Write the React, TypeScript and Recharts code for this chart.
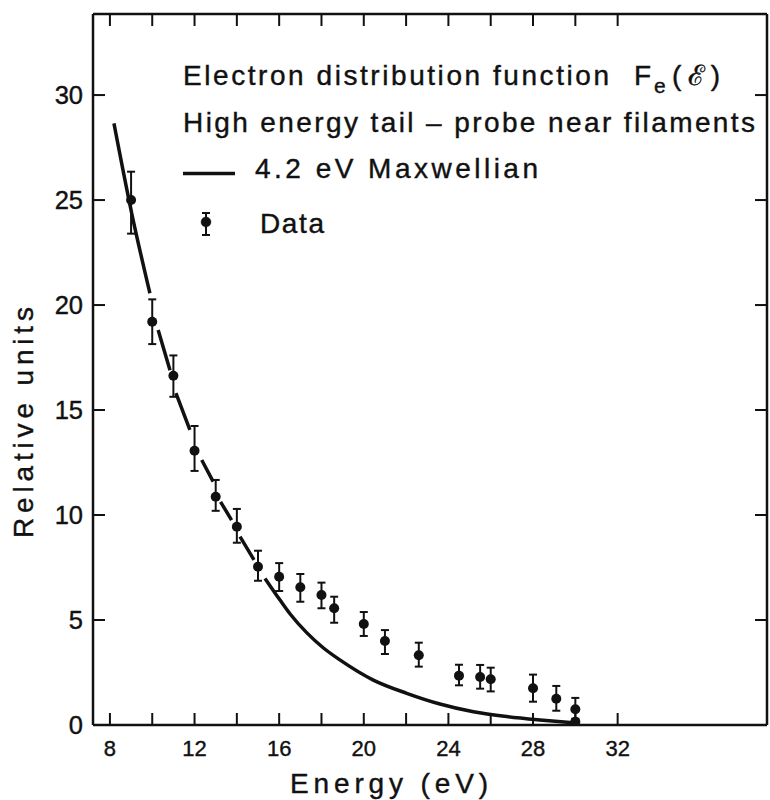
import React from 'react';
import { ComposedChart, XAxis, YAxis, Line, Scatter, ErrorBar } from 'recharts';

// Axis ticks
const xTicks = [8, 10, 12, 14, 16, 18, 20, 22, 24, 26, 28, 30, 32];
const xLabelled = [8, 12, 16, 20, 24, 28, 32];
const yTicks = [0, 5, 10, 15, 20, 25, 30];

// 4.2 eV Maxwellian curve (nulls are the breaks in the drawn line)
const curveEnergy = [8.19, 9.03, 9.89, 10.1, 10.28, 10.84, 11.0, 11.12, 11.78, 12.0, 12.34, 12.88, 13.1, 13.23, 13.75, 13.9, 14.15, 14.81, 15.1, 15.33, 16.04, 16.51, 17.3, 18.08, 18.87, 20.45, 22.03, 23.6, 25.18, 26.76, 28.33, 29.9];
const curveValue = [28.65, 24.37, 20.56, null, 18.81, 16.9, null, 15.8, 14.05, null, 12.62, 11.59, null, 10.63, 9.76, null, 8.97, 7.86, null, 6.98, 5.95, 5.3, 4.4, 3.68, 3.1, 2.14, 1.51, 1.0, 0.63, 0.4, 0.24, 0.11];

// Measured data with asymmetric error bars
const dataEnergy = [9, 10, 11, 12, 13, 14, 15, 16, 17, 18, 18.6, 20, 21, 22.6, 24.5, 25.5, 26, 28, 29.1, 30, 30];
const dataValue = [25.0, 19.2, 16.63, 13.06, 10.87, 9.44, 7.54, 7.06, 6.56, 6.19, 5.56, 4.81, 4.0, 3.32, 2.35, 2.29, 2.18, 1.75, 1.25, 0.75, 0.15];
const errLow = [1.6, 1.06, 1.0, 0.96, 0.67, 0.76, 0.67, 0.68, 0.69, 0.63, 0.69, 0.57, 0.62, 0.54, 0.46, 0.56, 0.58, 0.64, 0.57, 0.55, 0.15];
const errHigh = [1.35, 1.07, 0.97, 1.18, 0.8, 0.85, 0.76, 0.65, 0.63, 0.59, 0.55, 0.57, 0.52, 0.6, 0.52, 0.57, 0.55, 0.65, 0.61, 0.54, 0.15];

const FONT = '"Liberation Sans", Arial, sans-serif';
const INK = '#111';

const curve = curveEnergy.map((x, i) => ({ x, y: curveValue[i] }));
const points = dataEnergy.map((x, i) => ({ x, y: dataValue[i], err: [errLow[i], errHigh[i]] }));

const BottomTick = (props: any) => {
  const { x, y, payload } = props;
  const v = payload.value;
  return (
    <g>
      <line x1={x} y1={y} x2={x} y2={y - 12} stroke={INK} strokeWidth={2} />
      {xLabelled.includes(v) && (
        <text x={x} y={y + 31} textAnchor="middle" fontSize={22} fontFamily={FONT} fill={INK} stroke={INK} strokeWidth={0.4}>
          {v}
        </text>
      )}
    </g>
  );
};

const TopTick = (props: any) => {
  const { x, y } = props;
  return <line x1={x} y1={y} x2={x} y2={y + 12} stroke={INK} strokeWidth={2} />;
};

const LeftTick = (props: any) => {
  const { x, y, payload } = props;
  return (
    <g>
      <line x1={x} y1={y} x2={x + 12} y2={y} stroke={INK} strokeWidth={2} />
      <text x={x - 10} y={y + 9} textAnchor="end" fontSize={25.5} fontFamily={FONT} fill={INK} stroke={INK} strokeWidth={0.4}>
        {payload.value}
      </text>
    </g>
  );
};

const RightTick = (props: any) => {
  const { x, y } = props;
  return <line x1={x} y1={y} x2={x - 12} y2={y} stroke={INK} strokeWidth={2} />;
};

const Dot = (props: any) => <circle cx={props.cx} cy={props.cy} r={5} fill={INK} />;

const axisLine = { stroke: INK, strokeWidth: 2.5 };
const xDomain: [number, number] = [7.2, 39.06];
const yDomain: [number, number] = [0, 33.86];

export default function App() {
  return (
    <div style={{ position: 'absolute', left: 0, top: 0, width: 770, height: 800, background: '#fff' }}>
      <ComposedChart width={770} height={800} margin={{ top: 13, right: 2, bottom: 0, left: 0 }}>
        <XAxis
          xAxisId="b"
          dataKey="x"
          type="number"
          domain={xDomain}
          ticks={xTicks}
          interval={0}
          allowDataOverflow
          orientation="bottom"
          height={75}
          axisLine={axisLine}
          tickLine={false}
          tickSize={0}
          tickMargin={0}
          tick={BottomTick}
        />
        <XAxis
          xAxisId="t"
          dataKey="x"
          type="number"
          domain={xDomain}
          ticks={xTicks}
          interval={0}
          allowDataOverflow
          orientation="top"
          height={1}
          axisLine={axisLine}
          tickLine={false}
          tickSize={0}
          tickMargin={0}
          tick={TopTick}
        />
        <YAxis
          yAxisId="l"
          type="number"
          domain={yDomain}
          ticks={yTicks}
          interval={0}
          allowDataOverflow
          width={93}
          axisLine={axisLine}
          tickLine={false}
          tickSize={0}
          tickMargin={0}
          tick={LeftTick}
        />
        <YAxis
          yAxisId="r"
          orientation="right"
          type="number"
          domain={yDomain}
          ticks={yTicks}
          interval={0}
          allowDataOverflow
          width={1}
          axisLine={axisLine}
          tickLine={false}
          tickSize={0}
          tickMargin={0}
          tick={RightTick}
        />
        <Line
          xAxisId="b"
          yAxisId="l"
          data={curve}
          dataKey="y"
          type="monotone"
          stroke={INK}
          strokeWidth={3.5}
          dot={false}
          activeDot={false}
          connectNulls={false}
          isAnimationActive={false}
        />
        <Scatter
          xAxisId="b"
          yAxisId="l"
          data={points}
          dataKey="y"
          fill={INK}
          shape={Dot}
          isAnimationActive={false}
        >
          <ErrorBar dataKey="err" direction="y" width={4} stroke={INK} strokeWidth={2} isAnimationActive={false} />
        </Scatter>
      </ComposedChart>
      <svg
        width={770}
        height={800}
        style={{ position: 'absolute', left: 0, top: 0, pointerEvents: 'none' }}
        fontFamily={FONT}
        fill={INK}
        stroke={INK}
        strokeWidth={0.4}
      >
        <text x={183} y={85} fontSize={28} textLength={426} lengthAdjust="spacing">
          Electron distribution function
        </text>
        <text x={634} y={85} fontSize={28}>F</text>
        <text x={654} y={93} fontSize={21}>e</text>
        <text x={672} y={85} fontSize={28} textLength={48} lengthAdjust="spacing">(ℰ)</text>
        <text x={183} y={132} fontSize={28} textLength={572} lengthAdjust="spacing">
          High energy tail – probe near filaments
        </text>
        <line x1={183} y1={173.5} x2={235} y2={173.5} stroke={INK} strokeWidth={3.5} />
        <text x={255} y={178} fontSize={28} textLength={283} lengthAdjust="spacing">
          4.2 eV  Maxwellian
        </text>
        <line x1={206} y1={213} x2={206} y2={235} stroke={INK} strokeWidth={2} />
        <line x1={202} y1={213} x2={210} y2={213} stroke={INK} strokeWidth={2} />
        <line x1={202} y1={235} x2={210} y2={235} stroke={INK} strokeWidth={2} />
        <circle cx={206} cy={222} r={5} fill={INK} />
        <text x={260} y={233} fontSize={28} textLength={64} lengthAdjust="spacing">Data</text>
        <text x={290} y={793} fontSize={28} textLength={198} lengthAdjust="spacing">Energy  (eV)</text>
        <text
          x={0}
          y={0}
          fontSize={28}
          textLength={231}
          lengthAdjust="spacing"
          transform="translate(33,538) rotate(-90)"
        >
          Relative  units
        </text>
      </svg>
    </div>
  );
}
